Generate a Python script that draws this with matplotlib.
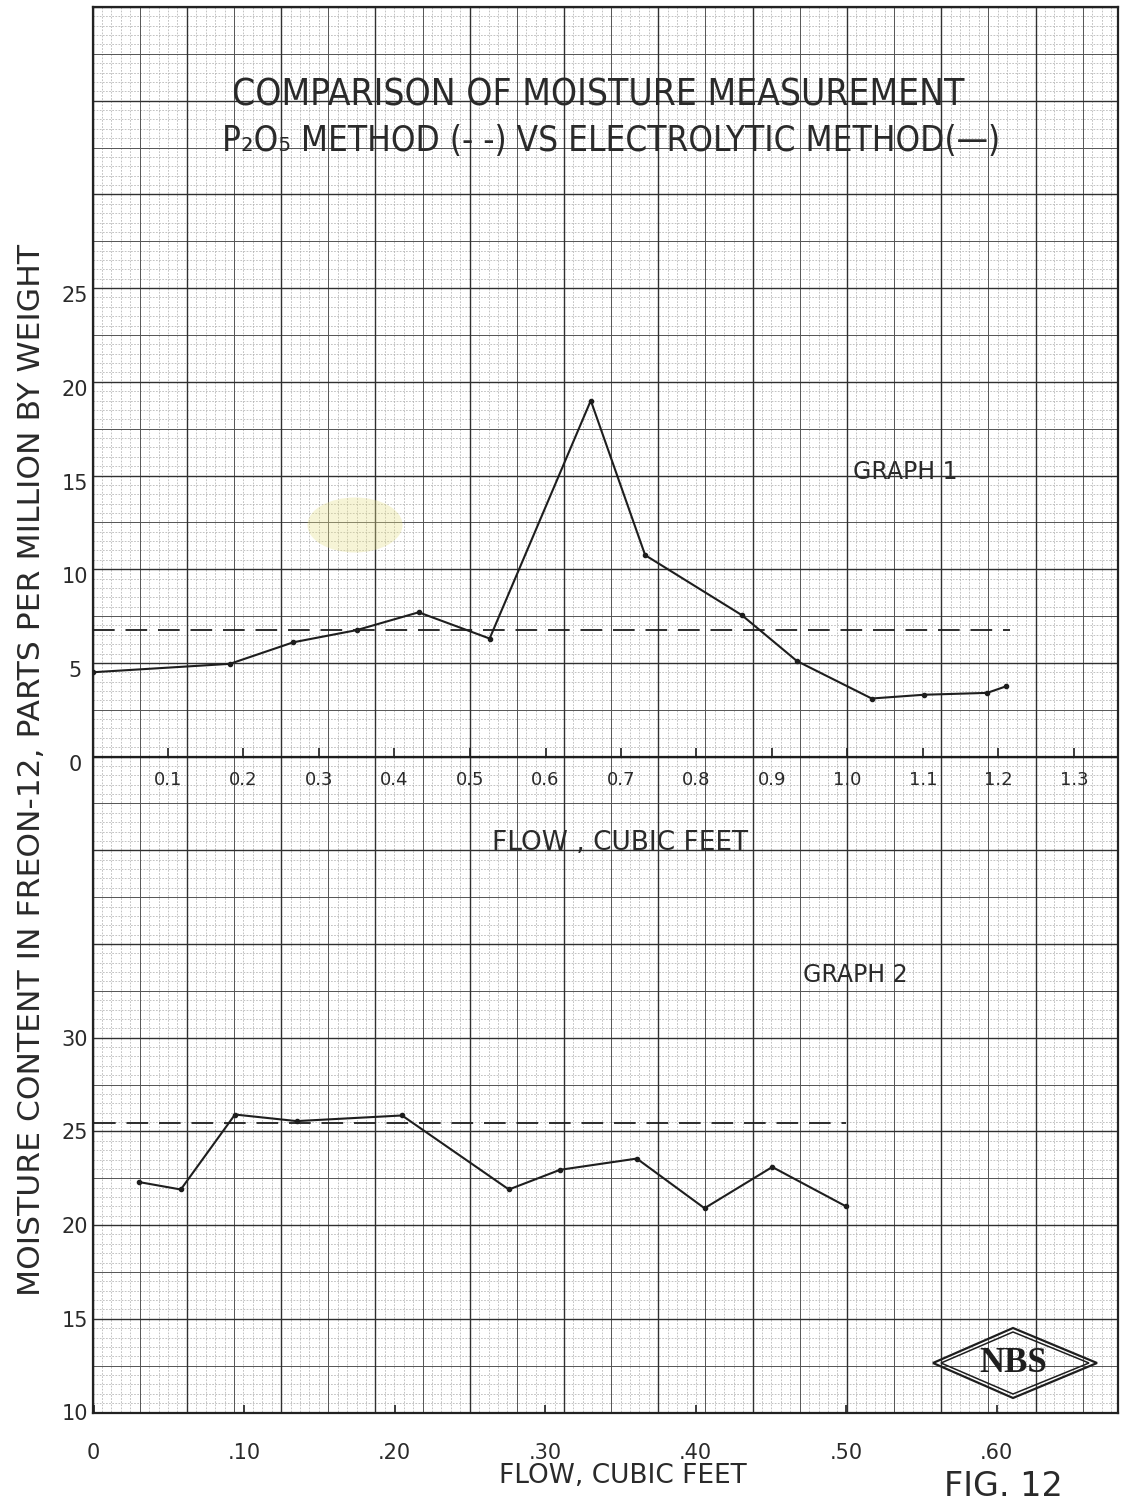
"""Fig. 12 - moisture in Freon-12, P2O5 method vs electrolytic method."""

import numpy as np
import matplotlib
matplotlib.use("Agg")
import matplotlib.pyplot as plt
import matplotlib.transforms as mtransforms
from matplotlib.patches import Polygon, Ellipse

# ---- data ----
g1_flow = [0.0, 0.182, 0.266, 0.350, 0.432, 0.526, 0.660, 0.732, 0.860,
           0.933, 1.032, 1.101, 1.185, 1.210]
g1_electrolytic = [4.5, 4.95, 6.1, 6.75, 7.7, 6.3, 19.0, 10.75, 7.55,
                   5.1, 3.1, 3.3, 3.4, 3.75]
g1_p2o5_flow = [0.0, 1.215]
g1_p2o5 = [6.75, 6.75]

g2_flow = [0.030, 0.058, 0.094, 0.135, 0.205, 0.276, 0.310, 0.361,
           0.406, 0.451, 0.500]
g2_electrolytic = [22.3, 21.9, 25.9, 25.55, 25.85, 21.9, 22.95, 23.55,
                   20.9, 23.1, 21.0]
g2_p2o5_flow = [0.0, 0.50]
g2_p2o5 = [25.45, 25.45]

g1_xticks = [0.1, 0.2, 0.3, 0.4, 0.5, 0.6, 0.7, 0.8, 0.9, 1.0, 1.1, 1.2, 1.3]
g1_xlabels = ["0.1", "0.2", "0.3", "0.4", "0.5", "0.6", "0.7", "0.8", "0.9",
              "1.0", "1.1", "1.2", "1.3"]
g1_yticks = [0, 5, 10, 15, 20, 25]
g2_xticks = [0, 0.10, 0.20, 0.30, 0.40, 0.50, 0.60]
g2_xlabels = ["0", ".10", ".20", ".30", ".40", ".50", ".60"]
g2_yticks = [10, 15, 20, 25, 30]

INK = "#1e1e1e"
LETTER = "#2a2a2a"
W, H = 1132, 1505
PAPER = (92.5, 7, 1118, 1412.5)          # left, top, right, bottom in px
CELL_X, CELL_Y = 94.3, 93.7               # heavy grid cell
PX_UNIT = 18.74                           # px per ppm on both graphs

fig = plt.figure(figsize=(W / 100, H / 100), dpi=100)
fig.patch.set_facecolor("white")


def frame(x0, y0, x1, y1):
    return [x0 / W, 1 - y1 / H, (x1 - x0) / W, (y1 - y0) / H]


# ---- graph paper ----
paper = fig.add_axes(frame(*PAPER))
paper.set_xlim(PAPER[0], PAPER[2])
paper.set_ylim(PAPER[3], PAPER[1])
paper.set_xticks([])
paper.set_yticks([])
for s in paper.spines.values():
    s.set_color("#222222")
    s.set_linewidth(1.6)

xs = np.arange(PAPER[0], PAPER[2], CELL_X / 10)
ys = np.arange(PAPER[1], PAPER[3], CELL_Y / 10)
paper.vlines(xs, PAPER[1], PAPER[3], color="#ababab", lw=0.5, linestyles=(0, (2.5, 2)))
paper.hlines(ys, PAPER[0], PAPER[2], color="#ababab", lw=0.5, linestyles=(0, (2.5, 2)))
paper.vlines(xs[::5], PAPER[1], PAPER[3], color="#555555", lw=0.7)
paper.hlines(ys[::5], PAPER[0], PAPER[2], color="#555555", lw=0.7)
paper.vlines(xs[::10], PAPER[1], PAPER[3], color="#303030", lw=1.0)
paper.hlines(ys[::10], PAPER[0], PAPER[2], color="#303030", lw=1.0)

shift_down = mtransforms.ScaledTranslation(0, -6 / 100, fig.dpi_scale_trans)

# ---- graph 1 ----
g1 = fig.add_axes(frame(*PAPER))
g1.patch.set_visible(False)
for s in g1.spines.values():
    s.set_visible(False)
g1_zero = 756.6
g1.set_xlim(0, (PAPER[2] - PAPER[0]) / 755)
g1.set_ylim(-(PAPER[3] - g1_zero) / PX_UNIT, (g1_zero - PAPER[1]) / PX_UNIT)
g1.set_xticks([])
g1.set_yticks(g1_yticks, [str(v) for v in g1_yticks])
g1.tick_params(axis="y", length=0, pad=12.6, labelsize=15, labelcolor=LETTER)
for lab in g1.get_yticklabels():
    lab.set_horizontalalignment("center")
    lab.set_transform(lab.get_transform() + shift_down)

g1.axhline(0, color=INK, lw=1.6)
g1.vlines(g1_xticks, 0, 0.48, color=INK, lw=1.2)
for v, lab in zip(g1_xticks, g1_xlabels):
    g1.text(v, -1.25, lab, ha="center", va="center", fontsize=13, color=LETTER)

g1.plot(g1_p2o5_flow, g1_p2o5, color=INK, lw=1.3, linestyle=(0, (12, 6)))
g1.plot(g1_flow, g1_electrolytic, color=INK, lw=1.5, marker="o", ms=3)

# ---- graph 2 ----
g2 = fig.add_axes(frame(*PAPER))
g2.patch.set_visible(False)
for s in g2.spines.values():
    s.set_visible(False)
g2_25 = 1131.4
g2.set_xlim(-1 / 1505, (PAPER[2] - 93.5) / 1505)
g2.set_ylim(25 - (PAPER[3] - g2_25) / PX_UNIT, 25 + (g2_25 - PAPER[1]) / PX_UNIT)
g2.set_yticks(g2_yticks, [str(v) for v in g2_yticks])
g2.tick_params(axis="y", length=0, pad=12.6, labelsize=15, labelcolor=LETTER)
for lab in g2.get_yticklabels():
    lab.set_horizontalalignment("center")
g2.set_xticks(g2_xticks, g2_xlabels)
g2.tick_params(axis="x", direction="in", length=6, width=1.2, color=INK,
               pad=22, labelsize=15, labelcolor=LETTER)

g2.plot(g2_p2o5_flow, g2_p2o5, color=INK, lw=1.3, linestyle=(0, (12, 6)))
g2.plot(g2_flow, g2_electrolytic, color=INK, lw=1.5, marker="o", ms=3)

# ---- lettering and stamp, placed in page pixels ----
ov = fig.add_axes([0, 0, 1, 1])
ov.set_xlim(0, W)
ov.set_ylim(H, 0)
ov.axis("off")
ov.patch.set_visible(False)

renderer = fig.canvas.get_renderer()


def fit(t, width=None, height=None):
    bb = t.get_window_extent(renderer=renderer)
    scale = width / bb.width if width else height / bb.height
    t.set_fontsize(t.get_fontsize() * scale)


t = ov.text(598, 95, "COMPARISON OF MOISTURE MEASUREMENT", ha="center", va="center",
            fontsize=28, fontstretch="condensed", color=LETTER)
fit(t, width=733)
t = ov.text(611, 141, "P₂O₅ METHOD (- -) VS ELECTROLYTIC METHOD(—)", ha="center",
            va="center", fontsize=24, fontstretch="condensed", color=LETTER)
fit(t, width=778)

ov.text(905, 472, "GRAPH 1", ha="center", va="center", fontsize=17, color=LETTER)
ov.text(855, 975, "GRAPH 2", ha="center", va="center", fontsize=17, color=LETTER)
ov.text(620, 843, "FLOW , CUBIC FEET", ha="center", va="center", fontsize=19, color=LETTER)
ov.text(623, 1476, "FLOW, CUBIC FEET", ha="center", va="center", fontsize=19, color=LETTER)
ov.text(1003, 1486, "FIG. 12", ha="center", va="center", fontsize=24, color=LETTER)
t = ov.text(32, 770, "MOISTURE CONTENT IN FREON-12, PARTS PER MILLION BY WEIGHT",
            ha="center", va="center", rotation=90, fontsize=19, color=LETTER)
fit(t, height=1050)

# faint stain on the sheet
ov.add_patch(Ellipse((355, 525), 95, 55, color="#e6e08a", alpha=0.35, lw=0))

# NBS stamp
outer = [(933, 1363), (1013, 1328), (1097, 1363), (1013, 1398)]
inner = [(941, 1363), (1013, 1332), (1089, 1363), (1013, 1394)]
ov.add_patch(Polygon(outer, closed=True, fill=False, ec=INK, lw=1.6))
ov.add_patch(Polygon(inner, closed=True, fill=False, ec=INK, lw=1.1))
ov.text(1013, 1364, "NBS", ha="center", va="center", fontsize=25, weight="bold",
        family=["Liberation Serif", "DejaVu Serif"], color=INK)

fig.savefig("out.png", dpi=100)
